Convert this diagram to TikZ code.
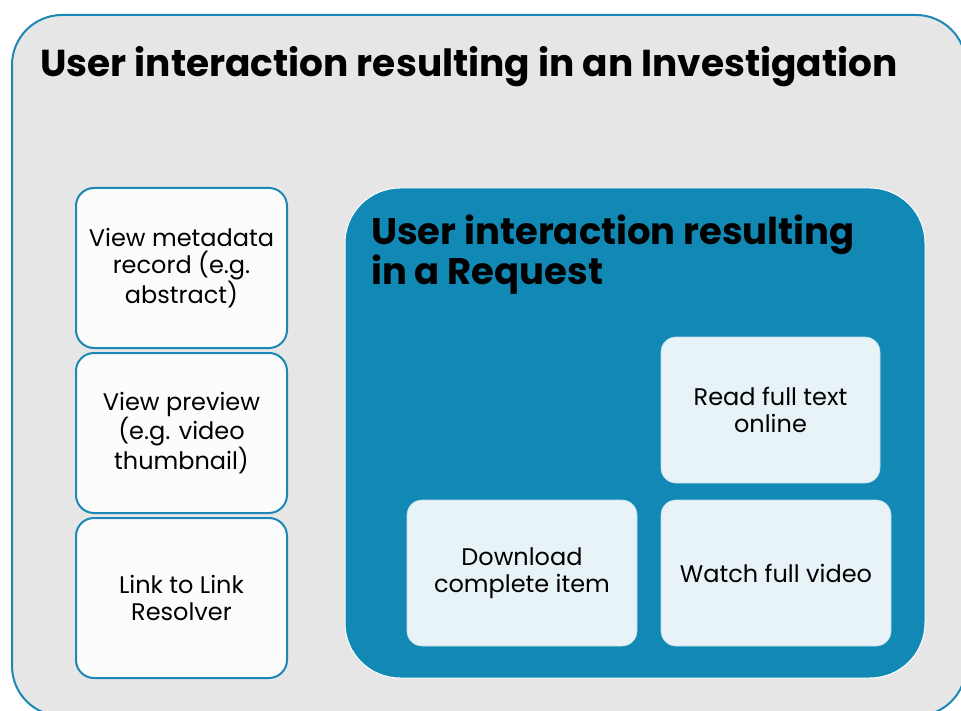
\documentclass[tikz,border=0pt]{standalone}
\usepackage{fontspec}
\setmainfont{Poppins}
\definecolor{edgeblue}{HTML}{1D87B6}
\definecolor{innerblue}{HTML}{1289B5}
\definecolor{outergray}{HTML}{E6E6E6}
\definecolor{whitebox}{HTML}{FCFCFC}
\definecolor{lightbox}{HTML}{E8F3F8}
\tikzset{
  leftbox/.style={draw=edgeblue, line width=2pt, fill=whitebox, rounded corners=18pt,
    minimum width=211pt, minimum height=160pt, align=center, inner sep=0pt,
    font=\fontsize{24}{27}\selectfont},
  reqbox/.style={fill=lightbox, draw=lightbox!80!innerblue, line width=0.6pt, rounded corners=15pt,
    minimum height=146pt, align=center, inner sep=0pt,
    font=\fontsize{24}{27}\selectfont},
  bigtitle/.style={anchor=base west, inner sep=0pt, font=\fontsize{37.5}{40}\selectfont\bfseries},
}
\begin{document}
\begin{tikzpicture}[x=1pt,y=-1pt]
\useasboundingbox (0,0) rectangle (961,711);
\clip (0,0) rectangle (961,711);
\fill[white] (0,0) rectangle (961,711);
\draw[edgeblue, fill=outergray, line width=2pt, rounded corners=50pt] (12,15) rectangle (966,716);
\node[bigtitle] (t1) at (40,77) {User interaction resulting in an Investigation};
\node[leftbox] (b1) at (181.5,268) {View metadata\\record (e.g.\\abstract)};
\node[leftbox] (b2) at (181.5,433) {View preview\\(e.g. video\\thumbnail)};
\node[leftbox] (b3) at (181.5,598) {Link to Link\\Resolver};
\node[draw=white, line width=1pt, fill=innerblue, rounded corners=55pt,
  minimum width=580pt, minimum height=490pt] (req) at (635,433) {};
\node[anchor=base west, inner sep=0pt, align=left, font=\fontsize{37}{40}\selectfont\bfseries] (t2) at (371,285) {User interaction resulting\\in a Request};
\node[reqbox, minimum width=219pt] (r1) at (770.5,410) {Read full text\\online};
\node[reqbox, minimum width=230pt] (r2) at (776,573) {Watch full video};
\node[reqbox, minimum width=230pt] (r3) at (522,573) {Download\\complete item};
\end{tikzpicture}
\end{document}
